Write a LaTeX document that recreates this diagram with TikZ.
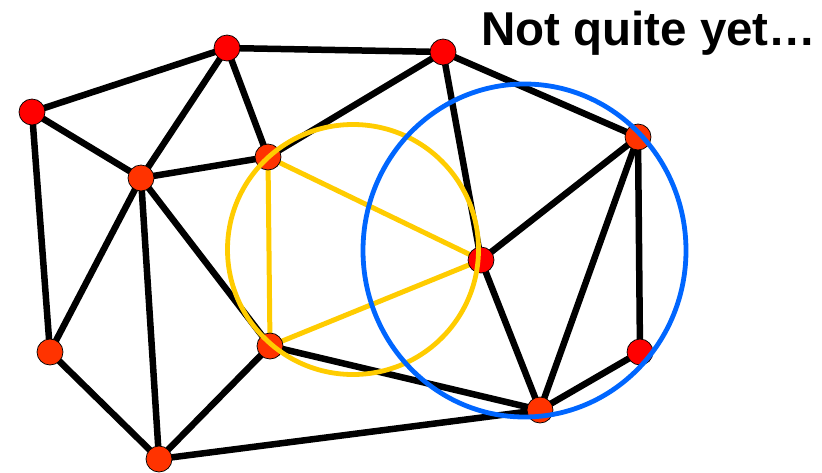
\documentclass[tikz,border=0pt]{standalone}
\usepackage{fontspec}
\setmainfont{Liberation Sans}
\begin{document}
\begin{tikzpicture}[x=1pt,y=-1pt,
  vtx/.style={circle,draw=black,line width=0.7pt,minimum size=26pt,inner sep=0pt},
  vred/.style={vtx,fill={rgb,255:red,255;green,0;blue,0}},
  vorg/.style={vtx,fill={rgb,255:red,255;green,51;blue,0}},
  edge/.style={line width=6.5pt,black},
  yedge/.style={line width=5pt,ycol},
  circ/.style={line width=4.8pt}]
\definecolor{ycol}{RGB}{255,204,0}
\definecolor{bcol}{RGB}{0,102,255}
\useasboundingbox (0,0) rectangle (822,472);
% coordinates for nodes
\coordinate (A) at (227,48);
\coordinate (B) at (443,52);
\coordinate (C) at (32,112);
\coordinate (D) at (638,137);
\coordinate (E) at (141,178);
\coordinate (F) at (268,157);
\coordinate (G) at (481,260);
\coordinate (H) at (50,352);
\coordinate (I) at (270,346);
\coordinate (J) at (640,352);
\coordinate (K) at (540,410);
\coordinate (L) at (159,459);
% black edges
\draw[edge] (A) -- (B);
\draw[edge] (A) -- (C);
\draw[edge] (A) -- (E);
\draw[edge] (A) -- (F);
\draw[edge] (B) -- (F);
\draw[edge] (B) -- (G);
\draw[edge] (B) -- (D);
\draw[edge] (C) -- (E);
\draw[edge] (C) -- (H);
\draw[edge] (E) -- (F);
\draw[edge] (E) -- (H);
\draw[edge] (E) -- (L);
\draw[edge] (E) -- (I);
\draw[edge] (G) -- (D);
\draw[edge] (G) -- (K);
\draw[edge] (D) -- (K);
\draw[edge] (D) -- (J);
\draw[edge] (J) -- (K);
\draw[edge] (I) -- (K);
\draw[edge] (I) -- (L);
\draw[edge] (L) -- (K);
\draw[edge] (H) -- (L);
% yellow triangle
\draw[yedge] (F) -- (G);
\draw[yedge] (G) -- (I);
\draw[yedge] (I) -- (F);
% vertices
\node[vred] (nA) at (A) {};
\node[vred] (nB) at (B) {};
\node[vred] (nC) at (C) {};
\node[vorg] (nD) at (D) {};
\node[vorg] (nE) at (E) {};
\node[vorg] (nF) at (F) {};
\node[vred] (nG) at (G) {};
\node[vorg] (nH) at (H) {};
\node[vorg] (nI) at (I) {};
\node[vred] (nJ) at (J) {};
\node[vorg] (nK) at (K) {};
\node[vorg] (nL) at (L) {};
% circumcircles
\draw[circ,ycol] (353,249.5) ellipse [x radius=125.5, y radius=125];
\draw[circ,bcol] (524.5,250.5) ellipse [x radius=161.5, y radius=166.5];
% title
\node[anchor=base west,inner sep=0pt,font=\fontsize{47.5pt}{52pt}\selectfont\bfseries] (title) at (481,45) {Not quite yet…};
\end{tikzpicture}
\end{document}
